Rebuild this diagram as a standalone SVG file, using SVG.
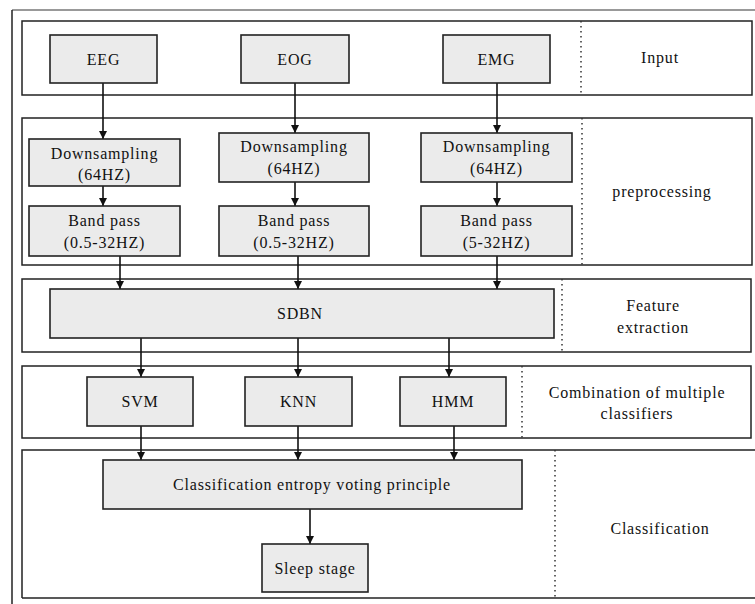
<svg xmlns="http://www.w3.org/2000/svg" width="755" height="604" viewBox="0 0 755 604" font-family="Liberation Serif, Times New Roman, serif">
  <style>
    text { font-size: 16px; fill: #111; text-anchor: middle; dominant-baseline: central; letter-spacing: 0.8px; }
    .panel { fill: none; stroke: #222; stroke-width: 1.5; }
    .box { fill: #ebebeb; stroke: #222; stroke-width: 1.6; }
    .div { stroke: #333; stroke-width: 1.5; stroke-dasharray: 1.5 3.5; }
    .edge { stroke: #111; stroke-width: 1.6; fill: none; marker-end: url(#arr); }
  </style>
  <defs>
    <marker id="arr" viewBox="0 0 10 10" refX="10" refY="5" markerWidth="8" markerHeight="8" markerUnits="userSpaceOnUse" orient="auto">
      <path d="M0,0 L10,5 L0,10 z" fill="#111"/>
    </marker>
  </defs>
  <rect width="755" height="604" fill="#fff"/>

  <!-- outer frame -->
  <g id="frame">
    <line x1="12" y1="10" x2="755" y2="10" stroke="#777" stroke-width="1.5"/>
    <line x1="12" y1="10" x2="12" y2="604" stroke="#222" stroke-width="1.5"/>
    <line x1="22" y1="598" x2="755" y2="598" stroke="#222" stroke-width="1.5"/>
  </g>

  <!-- stage panels -->
  <g id="panels">
    <rect class="panel" x="22" y="21" width="730" height="74"/>
    <rect class="panel" x="22" y="118" width="730" height="147"/>
    <rect class="panel" x="22" y="279" width="729" height="73"/>
    <rect class="panel" x="22" y="366" width="729" height="72"/>
    <path class="panel" d="M755,450 H22 V598"/>
    <line class="div" x1="581" y1="21" x2="581" y2="95"/>
    <line class="div" x1="582" y1="118" x2="582" y2="265"/>
    <line class="div" x1="562" y1="279" x2="562" y2="352"/>
    <line class="div" x1="522" y1="366" x2="522" y2="438"/>
    <line class="div" x1="555" y1="450" x2="555" y2="598"/>
  </g>

  <!-- stage labels -->
  <g id="labels">
    <text x="660" y="57">Input</text>
    <text x="662" y="191">preprocessing</text>
    <text x="653" y="305">Feature</text>
    <text x="653" y="327">extraction</text>
    <text x="637" y="392">Combination of multiple</text>
    <text x="637" y="413">classifiers</text>
    <text x="660" y="528">Classification</text>
  </g>

  <!-- connectors -->
  <g id="connectors">
    <line class="edge" x1="103" y1="83" x2="103" y2="139"/>
    <line class="edge" x1="295" y1="83" x2="295" y2="133"/>
    <line class="edge" x1="497" y1="83" x2="497" y2="133"/>
    <line class="edge" x1="103" y1="186" x2="103" y2="206"/>
    <line class="edge" x1="295" y1="182" x2="295" y2="206"/>
    <line class="edge" x1="497" y1="182" x2="497" y2="206"/>
    <line class="edge" x1="120" y1="256" x2="120" y2="289"/>
    <line class="edge" x1="298" y1="256" x2="298" y2="289"/>
    <line class="edge" x1="497" y1="256" x2="497" y2="289"/>
    <line class="edge" x1="141" y1="338" x2="141" y2="377"/>
    <line class="edge" x1="298" y1="338" x2="298" y2="377"/>
    <line class="edge" x1="449" y1="338" x2="449" y2="377"/>
    <line class="edge" x1="141" y1="426" x2="141" y2="460"/>
    <line class="edge" x1="298" y1="426" x2="298" y2="460"/>
    <line class="edge" x1="454" y1="426" x2="454" y2="460"/>
    <line class="edge" x1="310" y1="509" x2="310" y2="544"/>
  </g>

  <!-- nodes -->
  <g id="eeg"><rect class="box" x="50" y="35" width="107" height="48"/><text x="103.5" y="59">EEG</text></g>
  <g id="eog"><rect class="box" x="241" y="35" width="108" height="48"/><text x="295" y="59">EOG</text></g>
  <g id="emg"><rect class="box" x="443" y="35" width="107" height="48"/><text x="496.5" y="59">EMG</text></g>

  <g id="down-eeg"><rect class="box" x="29" y="139" width="151" height="47"/><text x="104.5" y="153">Downsampling</text><text x="104.5" y="174">(64HZ)</text></g>
  <g id="down-eog"><rect class="box" x="219" y="133" width="150" height="49"/><text x="294" y="146">Downsampling</text><text x="294" y="168">(64HZ)</text></g>
  <g id="down-emg"><rect class="box" x="421" y="133" width="151" height="49"/><text x="496.5" y="146">Downsampling</text><text x="496.5" y="168">(64HZ)</text></g>

  <g id="band-eeg"><rect class="box" x="29" y="206" width="151" height="50"/><text x="104.5" y="220">Band pass</text><text x="104.5" y="242">(0.5-32HZ)</text></g>
  <g id="band-eog"><rect class="box" x="219" y="206" width="150" height="50"/><text x="294" y="220">Band pass</text><text x="294" y="242">(0.5-32HZ)</text></g>
  <g id="band-emg"><rect class="box" x="421" y="206" width="151" height="50"/><text x="496.5" y="220">Band pass</text><text x="496.5" y="242">(5-32HZ)</text></g>

  <g id="sdbn"><rect class="box" x="50" y="289" width="504" height="49"/><text x="300" y="313">SDBN</text></g>

  <g id="svm"><rect class="box" x="87" y="377" width="106" height="49"/><text x="140" y="401">SVM</text></g>
  <g id="knn"><rect class="box" x="245" y="377" width="107" height="49"/><text x="298.5" y="401">KNN</text></g>
  <g id="hmm"><rect class="box" x="400" y="377" width="106" height="49"/><text x="453" y="401">HMM</text></g>

  <g id="voting"><rect class="box" x="103" y="460" width="419" height="49"/><text x="312" y="484">Classification entropy voting principle</text></g>
  <g id="sleep"><rect class="box" x="262" y="544" width="106" height="48"/><text x="315" y="568">Sleep stage</text></g>
</svg>
